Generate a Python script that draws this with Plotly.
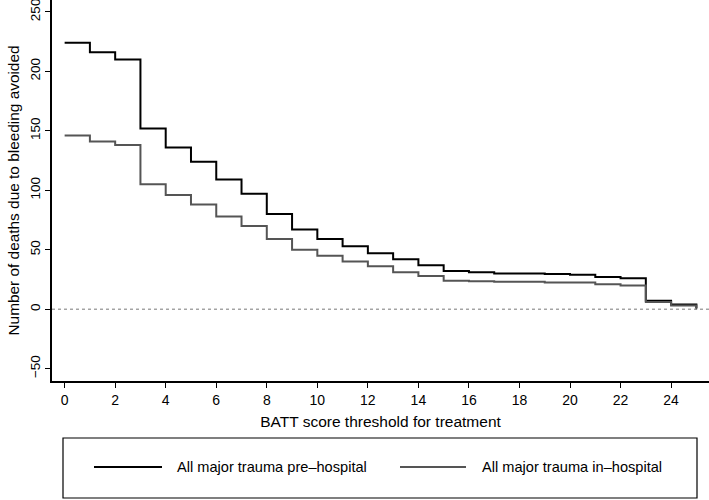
import plotly.graph_objects as go

thresholds = list(range(26))
pre_hospital = [224, 216, 210, 152, 136, 124, 109, 97, 80, 67, 59, 53, 47, 42, 37, 32,
                31, 30, 30, 29.5, 29, 27, 26, 7, 4, 1]
in_hospital = [146, 141, 138, 105, 96, 88, 78, 70, 59, 50, 45, 40, 36, 31, 28, 24,
               23.5, 23, 23, 22.5, 22.5, 21, 20, 6, 3, 0]
series_names = ["All major trauma pre\u2013hospital", "All major trauma in\u2013hospital"]
series_colors = ["#000000", "#555555"]
x_ticks = list(range(0, 25, 2))
y_ticks = [-50, 0, 50, 100, 150, 200, 250]
y_ticktext = ["\u221250", "0", "50", "100", "150", "200", "250"]

FONT = "Liberation Sans, Arial, Helvetica, sans-serif"
L, B, PW, PH = 52, 119, 657, 381


def px(xp):
    return (xp - L) / PW


def py(yp):
    return (PH - yp) / PH


fig = go.Figure()
for vals, name, col in zip([pre_hospital, in_hospital], series_names, series_colors):
    fig.add_trace(go.Scatter(x=thresholds, y=vals, mode="lines", line_shape="hv",
                             line=dict(color=col, width=2), name=name, showlegend=False))

# dotted zero reference line
fig.add_shape(type="line", xref="paper", yref="y", x0=0, x1=1, y0=0, y1=0,
              line=dict(color="#777777", width=1, dash="dot"), layer="below")
# legend frame
fig.add_shape(type="rect", xref="paper", yref="paper",
              x0=px(63), x1=px(697), y0=py(498), y1=py(438),
              line=dict(color="#000000", width=1.2), fillcolor="rgba(0,0,0,0)")
# legend entries
legend_pos = [(94, 162, 175), (400, 466, 480)]
for (lx0, lx1, tx), name, col in zip(legend_pos, series_names, series_colors):
    fig.add_shape(type="line", xref="paper", yref="paper", x0=px(lx0), x1=px(lx1),
                  y0=py(467), y1=py(467), line=dict(color=col, width=2))
    fig.add_annotation(xref="paper", yref="paper", x=px(tx), y=py(467), text=name,
                       showarrow=False, xanchor="left", yanchor="middle",
                       font=dict(size=14.6, family=FONT, color="#000000"))

fig.update_layout(
    width=709, height=500,
    margin=dict(l=L, r=0, t=0, b=B, autoexpand=False),
    paper_bgcolor="white", plot_bgcolor="white",
    font=dict(family=FONT, size=13.5, color="#000000"),
    showlegend=False,
    xaxis=dict(range=[-0.5, 25.5], tickmode="array", tickvals=x_ticks, automargin=False,
               showgrid=False, zeroline=False, showline=True, linecolor="#000000",
               linewidth=1.5, ticks="outside", ticklen=5, tickwidth=1.2, tickcolor="#000000",
               ticklabeloverflow="allow",
               title=dict(text="BATT score threshold for treatment", standoff=10,
                          font=dict(size=15.5)),
               tickfont=dict(size=14)),
    yaxis=dict(range=[-60.4, 260], tickmode="array", tickvals=y_ticks, automargin=False,
               ticktext=y_ticktext, tickangle=-90, ticklabeloverflow="allow",
               showgrid=False, zeroline=False, showline=True, linecolor="#000000",
               linewidth=1.5, ticks="outside", ticklen=5, tickwidth=1.2, tickcolor="#000000",
               title=dict(text="Number of deaths due to bleeding avoided", standoff=4,
                          font=dict(size=15.4)),
               tickfont=dict(size=13.5)),
)

fig.write_html("out.html", config={"displayModeBar": False},
               post_script="document.body.style.margin='0';document.body.style.overflow='hidden';")
